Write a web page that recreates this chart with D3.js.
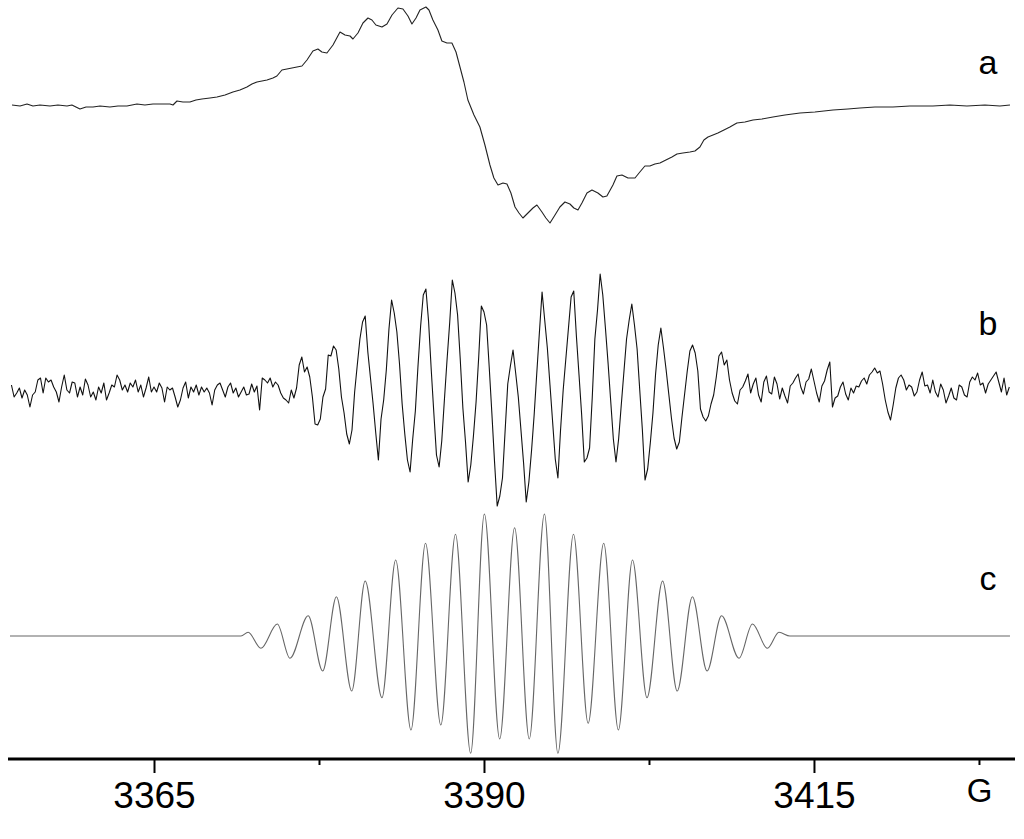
<!DOCTYPE html>
<html>
<head>
<meta charset="utf-8">
<script src="https://cdn.jsdelivr.net/npm/d3@7"></script>
<style>
  body { margin: 0; background: #fff; }
  svg { display: block; }
  text { font-family: Arial, "Liberation Sans", sans-serif; fill: #000; }
</style>
</head>
<body>
<div id="canvas"></div>
<script>
// labels of the three spectra
var traceLabels = ["a", "b", "c"];

// spectrum a: field (G) and signal (arb. units)
var aField = [3354.24,3354.85,3355.38,3355.83,3356.36,3357.12,3357.72,3358.41,3358.78,3359.39,
  3359.85,3360.38,3360.91,3361.66,3362.27,3362.95,3363.71,3364.31,3364.92,3365.45,
  3366.21,3366.44,3366.74,3367.19,3367.72,3368.18,3368.63,3369.24,3369.77,3370.38,
  3370.98,3371.51,3372.04,3372.42,3372.80,3373.18,3373.56,3374.01,3374.31,3374.69,
  3375.07,3375.45,3375.83,3376.21,3376.59,3377.04,3377.42,3377.72,3378.10,3378.56,
  3379.09,3379.47,3379.85,3380.07,3380.45,3380.83,3381.21,3381.51,3381.81,3382.27,
  3382.65,3383.03,3383.48,3383.86,3384.24,3384.54,3384.85,3385.15,3385.60,3385.83,
  3386.13,3386.51,3386.81,3387.19,3387.57,3387.88,3388.18,3388.48,3388.78,3389.24,
  3389.69,3390.07,3390.45,3390.75,3391.06,3391.44,3391.74,3392.04,3392.35,3392.65,
  3392.95,3393.33,3393.71,3394.01,3394.39,3394.69,3395.00,3395.38,3395.75,3396.13,
  3396.51,3396.81,3397.12,3397.42,3397.80,3398.18,3398.63,3399.01,3399.31,3399.77,
  3400.07,3400.45,3400.91,3401.44,3401.81,3402.19,3402.57,3402.95,3403.33,3403.78,
  3404.24,3404.62,3405.07,3405.60,3405.98,3406.36,3406.66,3406.97,3407.35,3407.72,
  3408.18,3408.63,3409.16,3409.77,3410.38,3411.06,3411.89,3412.80,3413.94,3415.07,
  3416.44,3417.57,3418.48,3419.62,3420.98,3422.27,3424.01,3425.30,3426.59,3427.95,
  3429.09,3429.85];
var aSignal = [0,-1,1,-1,0,-1,0,-1,0,-4,
  -2,-2,-1,-2,-1,-1,1,0,1,1,
  1,0,4,3,3,5,6,7,8,10,
  13,15,18,21,23,24,25,27,29,35,
  36,37,38,39,45,54,56,53,52,60,
  73,70,69,66,72,82,87,85,80,78,
  81,90,97,96,89,81,87,95,98,95,
  85,75,64,62,62,53,38,23,5,-10,
  -22,-40,-60,-73,-80,-78,-79,-88,-102,-108,
  -113,-108,-103,-100,-107,-113,-118,-110,-102,-97,
  -99,-103,-105,-98,-88,-85,-88,-92,-91,-80,
  -71,-70,-73,-73,-67,-61,-61,-59,-58,-55,
  -52,-49,-48,-47,-46,-42,-35,-32,-30,-28,
  -25,-22,-18,-17,-15,-14,-12,-10,-8,-7,
  -5,-4,-3,-2,-2,-1,-1,0,-1,0,
  -1,0];

// spectrum b: sampled from bStart in steps of bStep (G)
var bStart = 3354.2, bStep = 0.2;
var bSignal = [5,-7,-3,2,-8,0,-5,-17,-5,-2,
  10,12,-3,12,8,10,3,-2,-12,3,
  15,0,-3,8,7,-7,3,-5,11,5,
  -7,-2,-10,3,-3,7,-10,-3,5,3,
  15,10,0,5,-2,7,3,10,-2,5,
  -7,2,13,-2,3,-2,7,2,-12,3,
  0,2,-7,-17,-10,2,8,-8,3,-2,
  5,-5,3,-2,2,-3,-15,0,5,7,
  0,-7,3,7,-3,2,-7,-2,3,-5,
  -4,6,-2,4,-20,12,10,7,12,3,
  8,5,-3,-8,-10,-13,0,-8,2,25,
  33,18,23,13,-7,-34,-35,-29,-7,1,
  35,34,44,40,21,-7,-23,-44,-54,-40,
  -2,25,51,68,74,38,12,-14,-43,-70,
  -29,-10,20,61,90,77,58,26,-14,-44,
  -70,-82,-49,-21,24,64,95,101,69,21,
  -23,-65,-77,-51,-10,30,67,110,97,75,
  31,-18,-52,-92,-75,-46,-12,33,84,78,
  65,22,-24,-72,-116,-106,-88,-41,6,24,
  40,17,-7,-40,-73,-112,-92,-61,-25,17,
  58,98,70,42,5,-32,-69,-88,-40,0,
  31,62,93,99,54,15,-25,-72,-68,-58,
  -8,51,80,116,95,62,27,-11,-49,-72,
  -49,-15,18,51,70,86,65,41,0,-40,
  -90,-79,-53,-23,16,45,62,42,20,-4,
  -28,-48,-59,-52,-27,-4,19,39,45,37,
  19,-19,-27,-31,-26,-14,-5,13,34,38,
  25,30,10,-3,-11,-14,0,3,9,16,
  -3,6,12,-5,-12,8,14,-2,-4,13,
  6,-9,2,-6,-13,4,7,12,16,3,
  -4,8,11,21,9,-3,-12,4,9,20,
  28,-17,-8,-6,3,8,-4,-10,2,-3,
  4,3,9,12,6,15,18,22,17,19,
  6,-10,-22,-30,-15,2,12,15,10,0,
  5,3,-6,-2,10,18,4,5,-3,10,
  -2,-7,6,0,-13,-6,2,-8,-10,5,
  3,-5,-7,8,13,10,17,5,7,-3,
  6,10,14,18,8,-2,12,-5,3];

// spectrum c (simulation): field of each extremum (G) and signal
var cField = [3354.09,3371.59,3372.13,3373.10,3374.34,3375.30,3376.68,3377.78,3378.82,3379.98,
  3381.00,3382.27,3383.31,3384.47,3385.57,3386.73,3387.84,3388.99,3390.03,3391.19,
  3392.32,3393.43,3394.58,3395.60,3396.78,3397.89,3399.07,3400.18,3401.25,3402.35,
  3403.53,3404.64,3405.79,3406.90,3408.00,3409.32,3410.34,3411.47,3412.35,3413.18,
  3429.85];
var cSignal = [0,0,3.7,-12.3,12,-22.3,20.3,-35,39.3,-55,
  55,-61.7,76,-94,92.7,-89,101.7,-117.3,122,-103,
  108.3,-103,122,-117.3,101.7,-87.3,92.7,-94,76,-61.7,
  55,-55,39.3,-35,20.3,-22.3,12,-12.3,3.7,0,
  0];

// field axis
var tickFields = [3365, 3377.5, 3390, 3402.5, 3415, 3427.5];
var tickLabels = ["3365", "", "3390", "", "3415", "G"];

var width = 1024, height = 839;
var axisY = 759;

var svg = d3.select("#canvas").append("svg")
  .attr("width", width)
  .attr("height", height);

var x = d3.scaleLinear()
  .domain([3354.09, 3430.23])
  .range([10, 1015]);

// one vertical scale per trace, same gain, different baselines
function yFor(baseline) {
  return d3.scaleLinear().domain([-130, 130]).range([baseline + 130, baseline - 130]);
}
var yA = yFor(105), yB = yFor(390), yC = yFor(636);

var aData = aField.map(function(f, i) { return {field: f, value: aSignal[i]}; });
var bData = bSignal.map(function(v, i) { return {field: bStart + i * bStep, value: v}; });
var cData = cField.map(function(f, i) { return {field: f, value: cSignal[i]}; });

function drawTrace(data, y, color, curve) {
  var line = d3.line()
    .x(function(d) { return x(d.field); })
    .y(function(d) { return y(d.value); })
    .curve(curve);
  svg.append("path")
    .datum(data)
    .attr("fill", "none")
    .attr("stroke", color)
    .attr("stroke-width", 1.1)
    .attr("stroke-linejoin", "round")
    .attr("d", line);
}

drawTrace(aData, yA, "#222", d3.curveLinear);
drawTrace(bData, yB, "#111", d3.curveLinear);
drawTrace(cData, yC, "#666", d3.curveMonotoneX);

// trace labels
var labelY = [74, 335, 590];
svg.selectAll(".trace-label")
  .data(traceLabels)
  .enter().append("text")
  .attr("class", "trace-label")
  .attr("x", 988)
  .attr("y", function(d, i) { return labelY[i]; })
  .attr("text-anchor", "middle")
  .style("font-size", "34px")
  .text(function(d) { return d; });

// axis
var axis = d3.axisBottom(x)
  .tickValues(tickFields)
  .tickFormat(function(d, i) { return tickLabels[i]; });

var axisG = svg.append("g")
  .attr("transform", "translate(0," + axisY + ")")
  .call(axis);

axisG.select(".domain").remove();
axisG.append("line")
  .attr("x1", x.range()[0] - 2).attr("x2", x.range()[1])
  .attr("y1", 0).attr("y2", 0)
  .attr("stroke", "#000")
  .attr("stroke-width", 3);

axisG.selectAll(".tick line")
  .attr("stroke", "#000")
  .attr("stroke-width", 2)
  .attr("y2", function(d, i) { return (tickLabels[i] && tickLabels[i] !== "G") ? 14 : 6; });

axisG.selectAll(".tick text")
  .attr("fill", "#000")
  .style("font-family", "Arial, 'Liberation Sans', sans-serif")
  .style("font-size", function(d, i) { return tickLabels[i] === "G" ? "33px" : "37px"; })
  .attr("y", function(d, i) { return tickLabels[i] === "G" ? 19.6 : 23; });
</script>
</body>
</html>
